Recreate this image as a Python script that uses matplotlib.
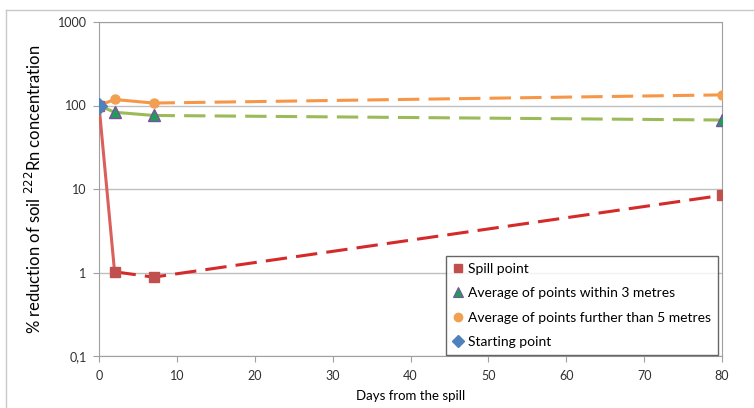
import matplotlib.pyplot as plt
from matplotlib.lines import Line2D
from matplotlib.ticker import FixedLocator, FuncFormatter, NullLocator

plt.rcParams['font.family'] = ['Lato', 'DejaVu Sans']

# --- data ---
days = [0, 2, 7, 80]
spill = [100, 1.02, 0.88, 8.4]
within3 = [100, 83, 76, 67]
further5 = [100, 118, 107, 134]
start_day = [0]
start_val = [100]

labels = ["Spill point", "Average of points within 3 metres",
          "Average of points further than 5 metres", "Starting point"]

fig = plt.figure(figsize=(7.54, 4.08), dpi=100)
ax = fig.add_axes([99/754, 1 - 356/408, (722 - 99)/754, (356 - 22)/408])

# outer chart border (only left/top edges show in the reference)
fig.add_artist(Line2D([6/754, 6/754], [0, 1 - 10/408], transform=fig.transFigure,
                      color="#c8c8c8", lw=1))
fig.add_artist(Line2D([6/754, 1], [1 - 10/408, 1 - 10/408], transform=fig.transFigure,
                      color="#c8c8c8", lw=1))

dash = (0, (7, 3))

# each series: solid for the first segment(s), long dashes afterwards
ax.plot(days[:2], spill[:2], color="#d9605c", lw=2.2, zorder=3)
ax.plot(days[1:], spill[1:], color="#d42a2a", lw=2.2, linestyle=dash, zorder=3)
ax.plot(days, spill, linestyle="none", marker="s", ms=6.5, color="#c0504d", zorder=5)

ax.plot(days[:3], within3[:3], color="#9bbb59", lw=2.2, zorder=3)
ax.plot(days[2:], within3[2:], color="#9bbb59", lw=2.2, linestyle=dash, zorder=3)
ax.plot(days[1:], within3[1:], linestyle="none", marker="^", ms=8.5, color="#1f9e5a",
        markeredgecolor="#7a4fa0", markeredgewidth=1, zorder=5)

ax.plot(days[:3], further5[:3], color="#f79646", lw=2.2, zorder=3)
ax.plot(days[2:], further5[2:], color="#f79646", lw=2.2, linestyle=dash, zorder=3)
ax.plot(days[1:], further5[1:], linestyle="none", marker="o", ms=6.5, color="#f0a050", zorder=5)

ax.plot(start_day, start_val, linestyle="none", marker="D", ms=8, color="#4f81bd", zorder=6)

ax.set_yscale("log")
ax.set_ylim(0.1, 1000)
ax.set_xlim(0, 80)
ax.yaxis.set_major_locator(FixedLocator([0.1, 1, 10, 100, 1000]))
ax.yaxis.set_minor_locator(NullLocator())
ax.yaxis.set_major_formatter(FuncFormatter(lambda v, p: "0,1" if v < 1 else "%d" % v))
ax.set_xticks(range(0, 81, 10))

ax.grid(axis="y", color="#c0c0c0", lw=1)
ax.set_axisbelow(True)
for s in ax.spines.values():
    s.set_color("#a0a0a0")
ax.tick_params(axis="both", labelsize=9, color="#a0a0a0", length=4, direction="out",
               labelcolor="#303030")
ax.tick_params(axis="x", pad=6)
ax.tick_params(axis="y", pad=5)

ax.set_xlabel("Days from the spill", fontsize=9.5, labelpad=6)
ax.set_ylabel("% reduction of soil $^{222}$Rn concentration", fontsize=12, labelpad=10)

handles = [
    Line2D([], [], linestyle="none", marker="s", ms=6, color="#c0504d"),
    Line2D([], [], linestyle="none", marker="^", ms=7, color="#1f9e5a",
           markeredgecolor="#7a4fa0", markeredgewidth=0.8),
    Line2D([], [], linestyle="none", marker="o", ms=6, color="#f0a050"),
    Line2D([], [], linestyle="none", marker="D", ms=6, color="#4f81bd"),
]
leg = ax.legend(handles, labels, loc="lower right", bbox_to_anchor=(718/754, 1 - 355/408),
                bbox_transform=fig.transFigure, fontsize=10, frameon=True, fancybox=False,
                handlelength=0.8, handletextpad=0.3, labelspacing=0.9, borderpad=0.5,
                borderaxespad=0)
leg.get_frame().set_edgecolor("#404040")
leg.get_frame().set_linewidth(1)

fig.savefig("out.png", dpi=100)
